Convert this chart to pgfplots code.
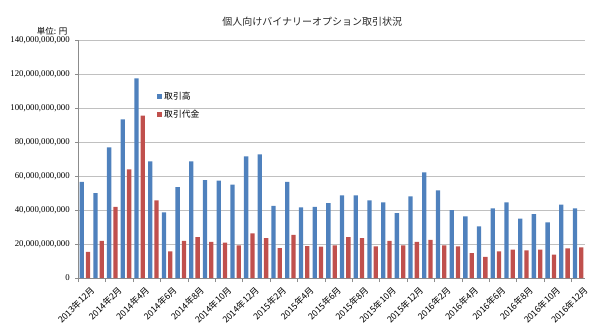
\documentclass[border=0pt]{standalone}
\usepackage{pgfplots}
\pgfplotsset{compat=1.18}
\usepackage{pgfplotstable}
\usepackage{fontspec}
\setmainfont{Noto Sans CJK JP}
\newfontfamily\numfont{Liberation Serif}
\definecolor{bblue}{HTML}{4F81BD}
\definecolor{bred}{HTML}{C0504D}
\definecolor{gridc}{HTML}{C0C0C0}
\definecolor{axc}{HTML}{8C8C8C}
\pgfplotstableread{
idx volume amount
0 56500000000 15300000000
1 50000000000 21800000000
2 76900000000 41800000000
3 93300000000 63900000000
4 117400000000 95500000000
5 68600000000 45700000000
6 38600000000 15700000000
7 53500000000 21800000000
8 68600000000 24100000000
9 57600000000 21200000000
10 57300000000 20800000000
11 54900000000 19200000000
12 71600000000 26300000000
13 72700000000 23500000000
14 42400000000 17600000000
15 56500000000 25300000000
16 41600000000 18700000000
17 41800000000 18400000000
18 44100000000 19200000000
19 48600000000 24100000000
20 48600000000 23500000000
21 45700000000 18600000000
22 44500000000 21800000000
23 38200000000 19200000000
24 48000000000 21200000000
25 62200000000 22400000000
26 51600000000 19200000000
27 40000000000 18600000000
28 36300000000 14700000000
29 30400000000 12400000000
30 41000000000 15700000000
31 44500000000 16700000000
32 34900000000 16300000000
33 37600000000 16700000000
34 32700000000 13700000000
35 43100000000 17500000000
36 41000000000 18000000000
}\datatable
\begin{document}
\begin{tikzpicture}
\useasboundingbox (0,0) rectangle (596pt,335pt);
\begin{axis}[
  at={(78pt,57pt)}, anchor=south west,
  scale only axis, width=507pt, height=238pt,
  ybar, bar width=4.3pt,
  xmin=-0.5, xmax=36.5,
  ymin=0, ymax=140000000000,
  scaled y ticks=false,
  ytick={0,20000000000,40000000000,60000000000,80000000000,100000000000,120000000000,140000000000},
  yticklabels={0,{20,000,000,000},{40,000,000,000},{60,000,000,000},{80,000,000,000},{100,000,000,000},{120,000,000,000},{140,000,000,000}},
  yticklabel style={font=\numfont\fontsize{8.8}{10}\selectfont, inner sep=1pt, xshift=-4pt},
  xtick={0,2,...,36},
  xticklabels={2013年12月,2014年2月,2014年4月,2014年6月,2014年8月,2014年10月,2014年12月,2015年2月,2015年4月,2015年6月,2015年8月,2015年10月,2015年12月,2016年2月,2016年4月,2016年6月,2016年8月,2016年10月,2016年12月},
  xticklabel style={font=\fontsize{8.8}{9}\selectfont, rotate=45, anchor=north east, inner sep=0.5pt, xshift=1pt, yshift=-6pt},
  minor xtick={-0.5,1.5,...,35.5},
  tick align=outside,
  major tick length=3pt, minor tick length=4pt,
  x tick style={draw=none},
  minor x tick style={draw=axc},
  y tick style={draw=axc},
  ymajorgrids, grid style={draw=gridc, line width=0.6pt},
  axis x line*=bottom, axis y line*=left,
  axis line style={draw=axc, line width=0.6pt},
  x axis line style={-}, y axis line style={-},
  title={個人向けバイナリーオプション取引状況},
  title style={at={(rel axis cs:0.462,1)}, anchor=center, yshift=12pt, font=\fontsize{10}{12}\selectfont, text=black!85},
  legend style={at={(rel axis cs:0.15,0.80)}, anchor=north west, draw=none, fill=none, font=\fontsize{8.8}{10}\selectfont, row sep=5pt, cells={anchor=west}},
  legend image code/.code={\fill[#1] (0pt,-2.5pt) rectangle (5pt,2.5pt);},
  clip=false,
]
\addplot[fill=bblue, draw=none] table[x=idx, y=volume] {\datatable};
\addplot[fill=bred, draw=none] table[x=idx, y=amount] {\datatable};
\legend{取引高,取引代金}
\node[font=\fontsize{8.5}{10}\selectfont, anchor=center] at (rel axis cs:-0.051,1.035) {単位: 円};
\end{axis}
\end{tikzpicture}
\end{document}
